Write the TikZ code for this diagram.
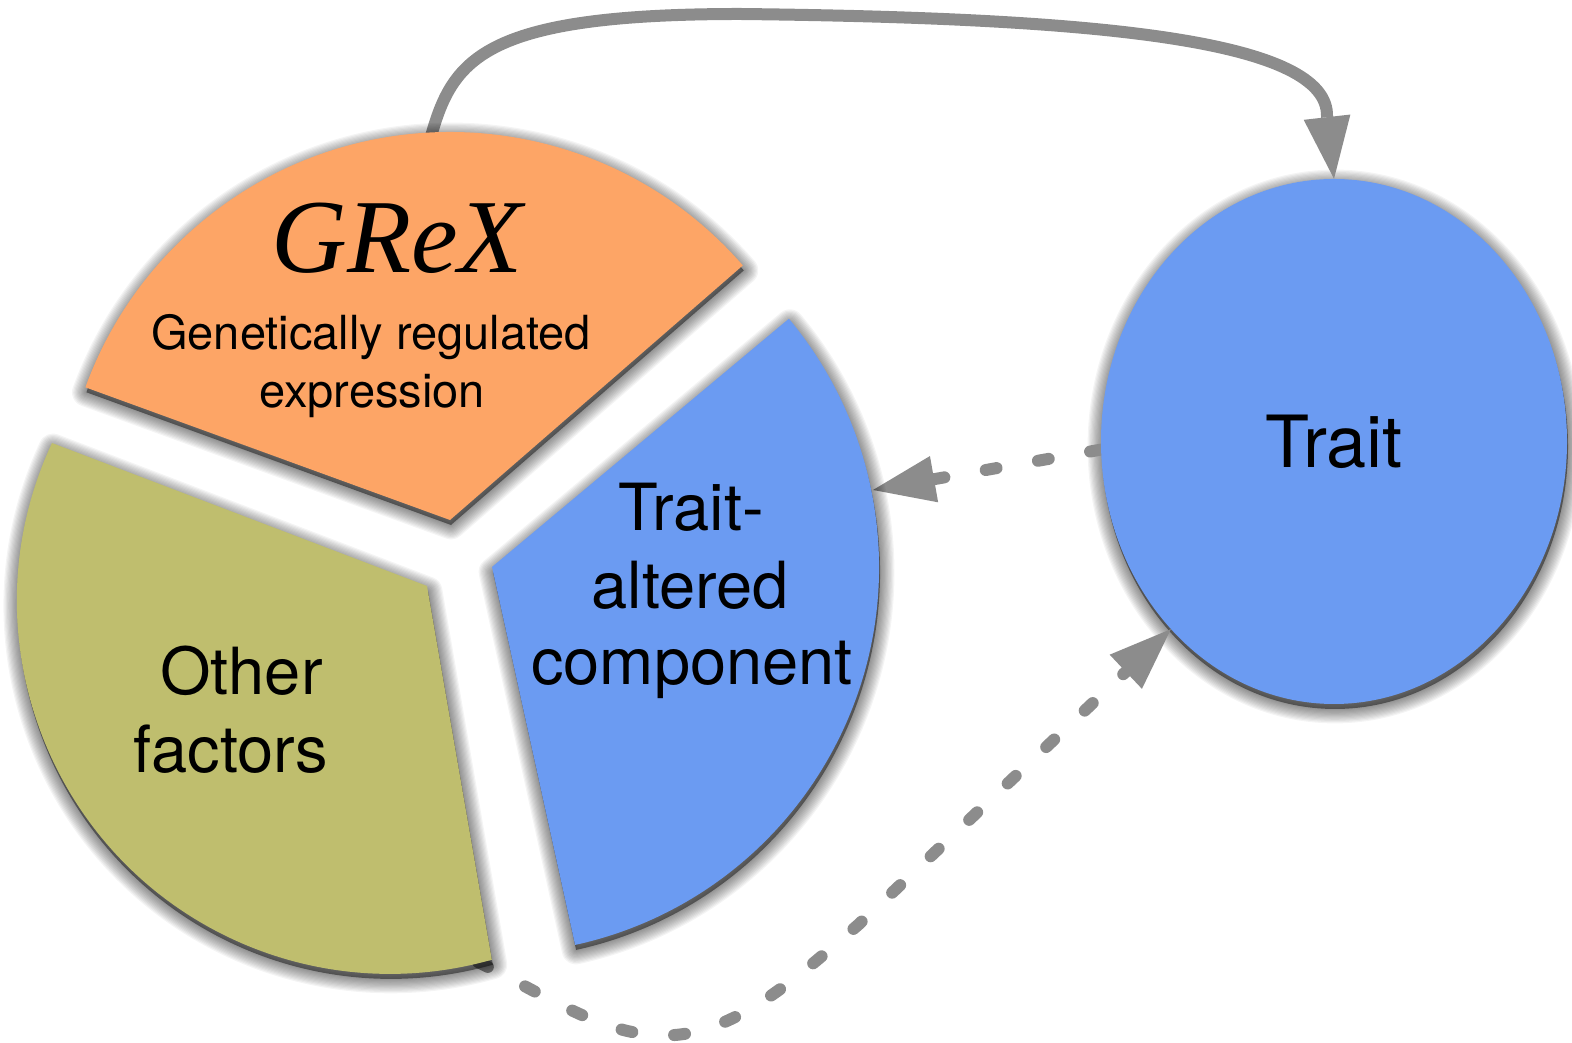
\documentclass[tikz,border=0pt]{standalone}
\usepackage{fontspec}
\setmainfont{TeX Gyre Heros}
\newfontfamily\grexfont{Liberation Serif}
\usetikzlibrary{arrows.meta,shapes.geometric}

\pgfdeclarelayer{connectors}
\pgfsetlayers{connectors,main}

\definecolor{grexorange}{RGB}{253,165,102}
\definecolor{tacblue}{RGB}{107,155,242}
\definecolor{otherolive}{RGB}{191,190,110}
\definecolor{linkgray}{RGB}{140,140,140}

% outlines of the three exploded pie wedges
\newcommand\grexwedge{(450,523) -- ++(41:388) arc[start angle=41,end angle=160,radius=388] -- cycle}
\newcommand\tacwedge{(492,476) -- ++(-77.6:387) arc[start angle=-77.6,end angle=39.9,radius=387] -- cycle}
\newcommand\otherwedge{(427,457) -- (52,600) arc[start angle=154.95,end angle=285.86,radius=373] -- cycle}

% soft shadow cast a little below a closed path
\newcommand\dropsoftshadow[1]{%
  \foreach \w in {1,...,12}{%
    \path[draw=black, line width=\w*2.4pt, draw opacity=0.045, line join=round, shift={(1,-5)}] #1;
  }%
  \path[fill=black, fill opacity=0.45, shift={(1,-5)}] #1;
}

\begin{document}
\begin{tikzpicture}[x=1pt,y=1pt,
  linkline/.style={draw=linkgray, line width=12pt},
  dashlink/.style={linkline, line cap=round, dash pattern=on 11pt off 42pt},
  bigtip/.style={-{Triangle[length=62pt,width=47pt,line width=0pt]}},
  bigtext/.style={anchor=base, font=\fontsize{65}{78}\selectfont},
  smalltext/.style={anchor=base, font=\fontsize{47}{56}\selectfont},
]
\useasboundingbox (0,0) rectangle (1572,1043);

% pie wedges
\dropsoftshadow{\grexwedge}
\fill[grexorange] \grexwedge;
\dropsoftshadow{\tacwedge}
\fill[tacblue] \tacwedge;
\dropsoftshadow{\otherwedge}
\fill[otherolive] \otherwedge;

% wedge labels
\node[anchor=base, font=\grexfont\itshape\fontsize{105}{112}\selectfont] (grex) at (397,770) {GReX};
\node[smalltext] (grexA) at (371,693) {Genetically regulated};
\node[smalltext] (grexB) at (372,635) {expression};
\node[bigtext] (tacA) at (691,512) {Trait-};
\node[bigtext] (tacB) at (690,434) {altered};
\node[bigtext] (tacC) at (692,358) {component};
\node[bigtext] (otherA) at (241.5,348) {Other};
\node[bigtext] (otherB) at (231,270) {factors};

% trait
\node[ellipse, fill=tacblue, minimum width=466pt, minimum height=525pt, inner sep=0pt,
      font=\fontsize{72}{86}\selectfont] (trait) at (1334,601.5) {Trait};

% attachment points on the wedges
\coordinate (grexTop) at (430,903);
\coordinate (tacEdge) at (873,553);
\coordinate (otherTip) at (478,81);

\begin{pgfonlayer}{connectors}
  \dropsoftshadow{(1334,601.5) ellipse[x radius=233, y radius=262.5]}
  \draw[linkline, bigtip] (grexTop) .. controls (452,983) and (480,1029) .. (740,1029)
        .. controls (1100,1025) and (1330,1003) .. (1327,926) -- (trait.north);
  \draw[dashlink, bigtip] (trait.182) -- (tacEdge);
  \draw[dashlink, bigtip] (otherTip) .. controls (555,43) and (610,3) .. (675,8)
        .. controls (740,13) and (800,68) .. (858,118) -- (trait.229);
\end{pgfonlayer}
\end{tikzpicture}
\end{document}
